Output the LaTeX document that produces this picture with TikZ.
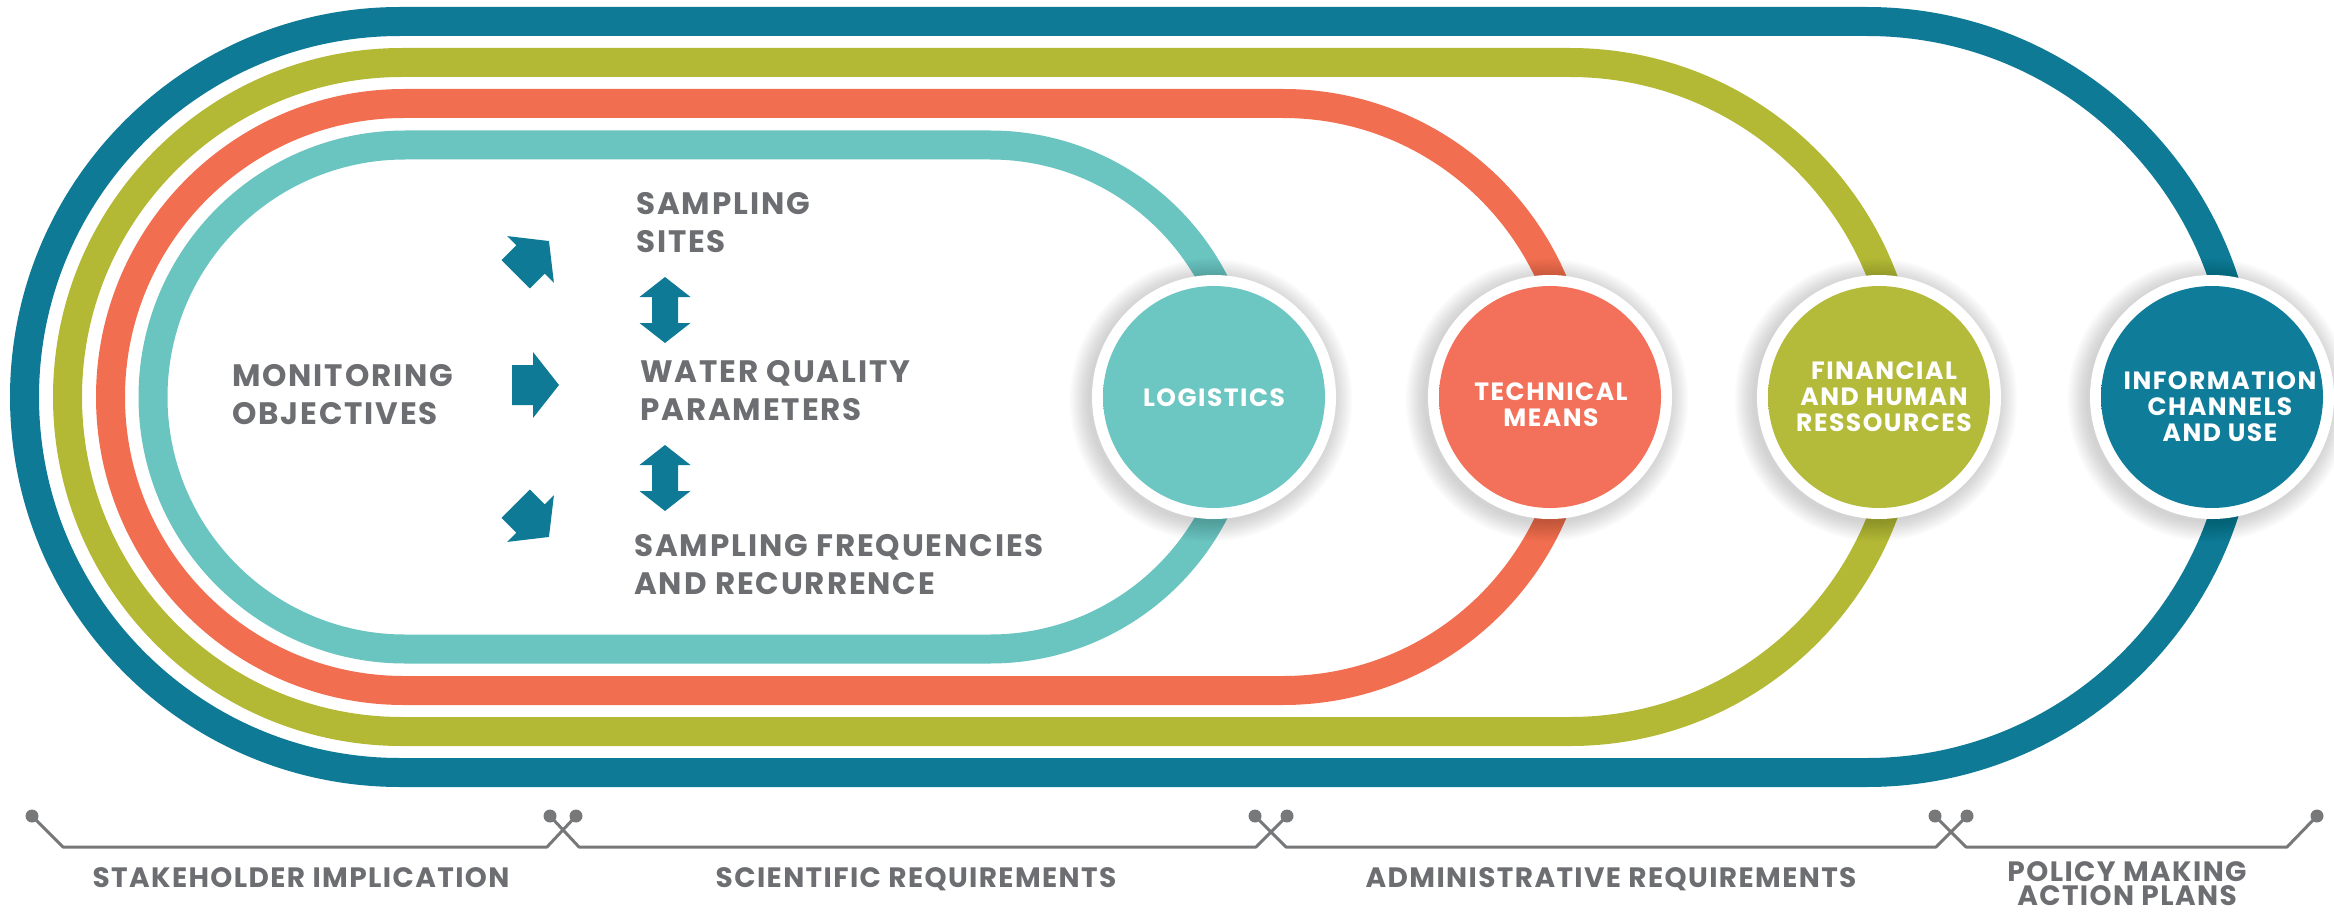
\documentclass[tikz,border=0pt]{standalone}
\usepackage{fontspec}
\setmainfont{Poppins}
\newfontfamily\popA[LetterSpace=6]{Poppins}
\newfontfamily\popB[LetterSpace=5]{Poppins}
\usetikzlibrary{calc}
\definecolor{cblue}{HTML}{0E7A96}
\definecolor{colive}{HTML}{B3B935}
\definecolor{corange}{HTML}{F26E50}
\definecolor{cteal}{HTML}{6AC4C0}
\definecolor{ctext}{HTML}{6D6E71}
\definecolor{cline}{HTML}{77787A}
\definecolor{tealA}{HTML}{6CC6C2}\definecolor{tealB}{HTML}{56AFAA}
\definecolor{orA}{HTML}{F3715A}\definecolor{orB}{HTML}{EA4230}
\definecolor{olA}{HTML}{B4BA3A}\definecolor{olB}{HTML}{A3A62F}
\definecolor{blA}{HTML}{0F7D99}\definecolor{blB}{HTML}{0A6580}
\pgfdeclareradialshading{shteal}{\pgfpointorigin}{color(0bp)=(tealA); color(32bp)=(tealA); color(50bp)=(tealB)}
\pgfdeclareradialshading{shor}{\pgfpointorigin}{color(0bp)=(orA); color(28bp)=(orA); color(50bp)=(orB)}
\pgfdeclareradialshading{shol}{\pgfpointorigin}{color(0bp)=(olA); color(32bp)=(olA); color(50bp)=(olB)}
\pgfdeclareradialshading{shbl}{\pgfpointorigin}{color(0bp)=(blA); color(32bp)=(blA); color(50bp)=(blB)}
\tikzset{
  band/.style={line width=29pt},
  ball/.style={circle, fill=white, minimum size=244pt, inner sep=0pt,
    path picture={\shade[shading=#1] (path picture bounding box.center) circle[radius=111pt];}},
  balltext/.style={text=white, font=\popA\fontsize{25}{26}\selectfont\bfseries, align=center, inner sep=0pt},
  lbl/.style={text=ctext, font=\popA\fontsize{31}{38}\selectfont\bfseries, align=left, inner sep=0pt},
  foot/.style={text=ctext, font=\popB\fontsize{28}{24}\selectfont\bfseries, align=center, inner sep=0pt},
  dot/.style={circle, fill=cline, inner sep=0pt, minimum size=13pt},
  bracket/.style={draw=cline, line width=3pt, line join=round},
  blockarrow/.pic={\fill[cblue] (-23,20) -- (-2,20) -- (-2,33) -- (24,0) -- (-2,-33) -- (-2,-20) -- (-23,-20) -- cycle;},
  dblarrow/.pic={\fill[cblue] (0,33) -- (25.5,13) -- (13,13) -- (13,-13) -- (25.5,-13) -- (0,-33) -- (-25.5,-13) -- (-13,-13) -- (-13,13) -- (-25.5,13) -- cycle;}
}
\begin{document}
\begin{tikzpicture}[x=1pt,y=1pt]
\useasboundingbox (0,0) rectangle (2334,-912);
% bands
\draw[band, cblue]   (400,-21.5) -- (1867,-21.5) arc[start angle=90, end angle=-90, radius=375.5] -- (400,-772.5) arc[start angle=270, end angle=90, radius=375.5] -- cycle;
\draw[band, colive]  (402,-62.5) -- (1570,-62.5) arc[start angle=90, end angle=-90, radius=334.5] -- (402,-731.5) arc[start angle=270, end angle=90, radius=334.5] -- cycle;
\draw[band, corange] (404,-103.5) -- (1283,-103.5) arc[start angle=90, end angle=-90, radius=293.5] -- (404,-690.5) arc[start angle=270, end angle=90, radius=293.5] -- cycle;
\draw[band, cteal]   (405,-145) -- (990,-145) arc[start angle=90, end angle=-90, radius=252] -- (405,-649) arc[start angle=270, end angle=90, radius=252] -- cycle;
% circle centres
\coordinate (c1) at (1214,-397);
\coordinate (c2) at (1550,-397);
\coordinate (c3) at (1879,-397);
\coordinate (c4) at (2212,-397);
% soft shadows
\foreach \c in {c1,c2,c3,c4}{
  \foreach \k in {1,...,12}{
    \fill[black, opacity=0.016] ($(\c)+(-3,-3)$) circle[radius=121+\k*1.7];
  }
}
\node[ball=shteal] (b1) at (c1) {};
\node[ball=shor]   (b2) at (c2) {};
\node[ball=shol]   (b3) at (c3) {};
\node[ball=shbl]   (b4) at (c4) {};
\node[balltext] (t1) at (1214,-398) {LOGISTICS};
\node[balltext] (t2) at (1551,-405) {TECHNICAL\\MEANS};
\node[balltext] (t3) at (1884,-397) {FINANCIAL\\AND HUMAN\\RESSOURCES};
\node[balltext] (t4) at (2220,-407) {INFORMATION\\CHANNELS\\AND USE};
% inner texts
\node[lbl, anchor=north west] (mo) at (232,-364) {MONITORING\\OBJECTIVES};
\node[lbl, anchor=north west] (ss) at (636,-192) {SAMPLING\\SITES};
\node[lbl, anchor=north west] (wq) at (640,-360) {WATER QUALITY\\PARAMETERS};
\node[lbl, anchor=north west] (sf) at (634,-534) {SAMPLING FREQUENCIES\\AND RECURRENCE};
% arrows
\pic[rotate=45]  at (532,-258) {blockarrow};
\pic             at (535,-385) {blockarrow};
\pic[rotate=-45] at (532,-520) {blockarrow};
\pic at (665,-310) {dblarrow};
\pic at (665,-478) {dblarrow};
% brackets
\node[dot] (d0)  at (32,-816) {};
\node[dot] (d1a) at (550,-816) {};
\node[dot] (d1b) at (576,-816) {};
\node[dot] (d2a) at (1255,-816) {};
\node[dot] (d2b) at (1287,-816) {};
\node[dot] (d3a) at (1935,-816) {};
\node[dot] (d3b) at (1967,-816) {};
\node[dot] (d4)  at (2317,-816) {};
\coordinate (k0)  at (63,-847);
\coordinate (k1a) at (547,-847);
\coordinate (k1b) at (579,-847);
\coordinate (k2a) at (1256,-847);
\coordinate (k2b) at (1286,-847);
\coordinate (k3a) at (1936,-847);
\coordinate (k3b) at (1966,-847);
\coordinate (k4)  at (2287,-847);
\draw[bracket] (d0.center) -- (k0) -- (k1a) -- (d1b.center);
\draw[bracket] (d1a.center) -- (k1b) -- (k2a) -- (d2b.center);
\draw[bracket] (d2a.center) -- (k2b) -- (k3a) -- (d3b.center);
\draw[bracket] (d3a.center) -- (k3b) -- (k4) -- (d4.center);
\node[foot, anchor=north] (f1) at (301,-867) {STAKEHOLDER IMPLICATION};
\node[foot, anchor=north] (f2) at (916,-867) {SCIENTIFIC REQUIREMENTS};
\node[foot, anchor=north] (f3) at (1611,-867) {ADMINISTRATIVE REQUIREMENTS};
\node[foot, anchor=south] (f4) at (2127,-906) {POLICY MAKING\\ACTION PLANS};
\end{tikzpicture}
\end{document}
